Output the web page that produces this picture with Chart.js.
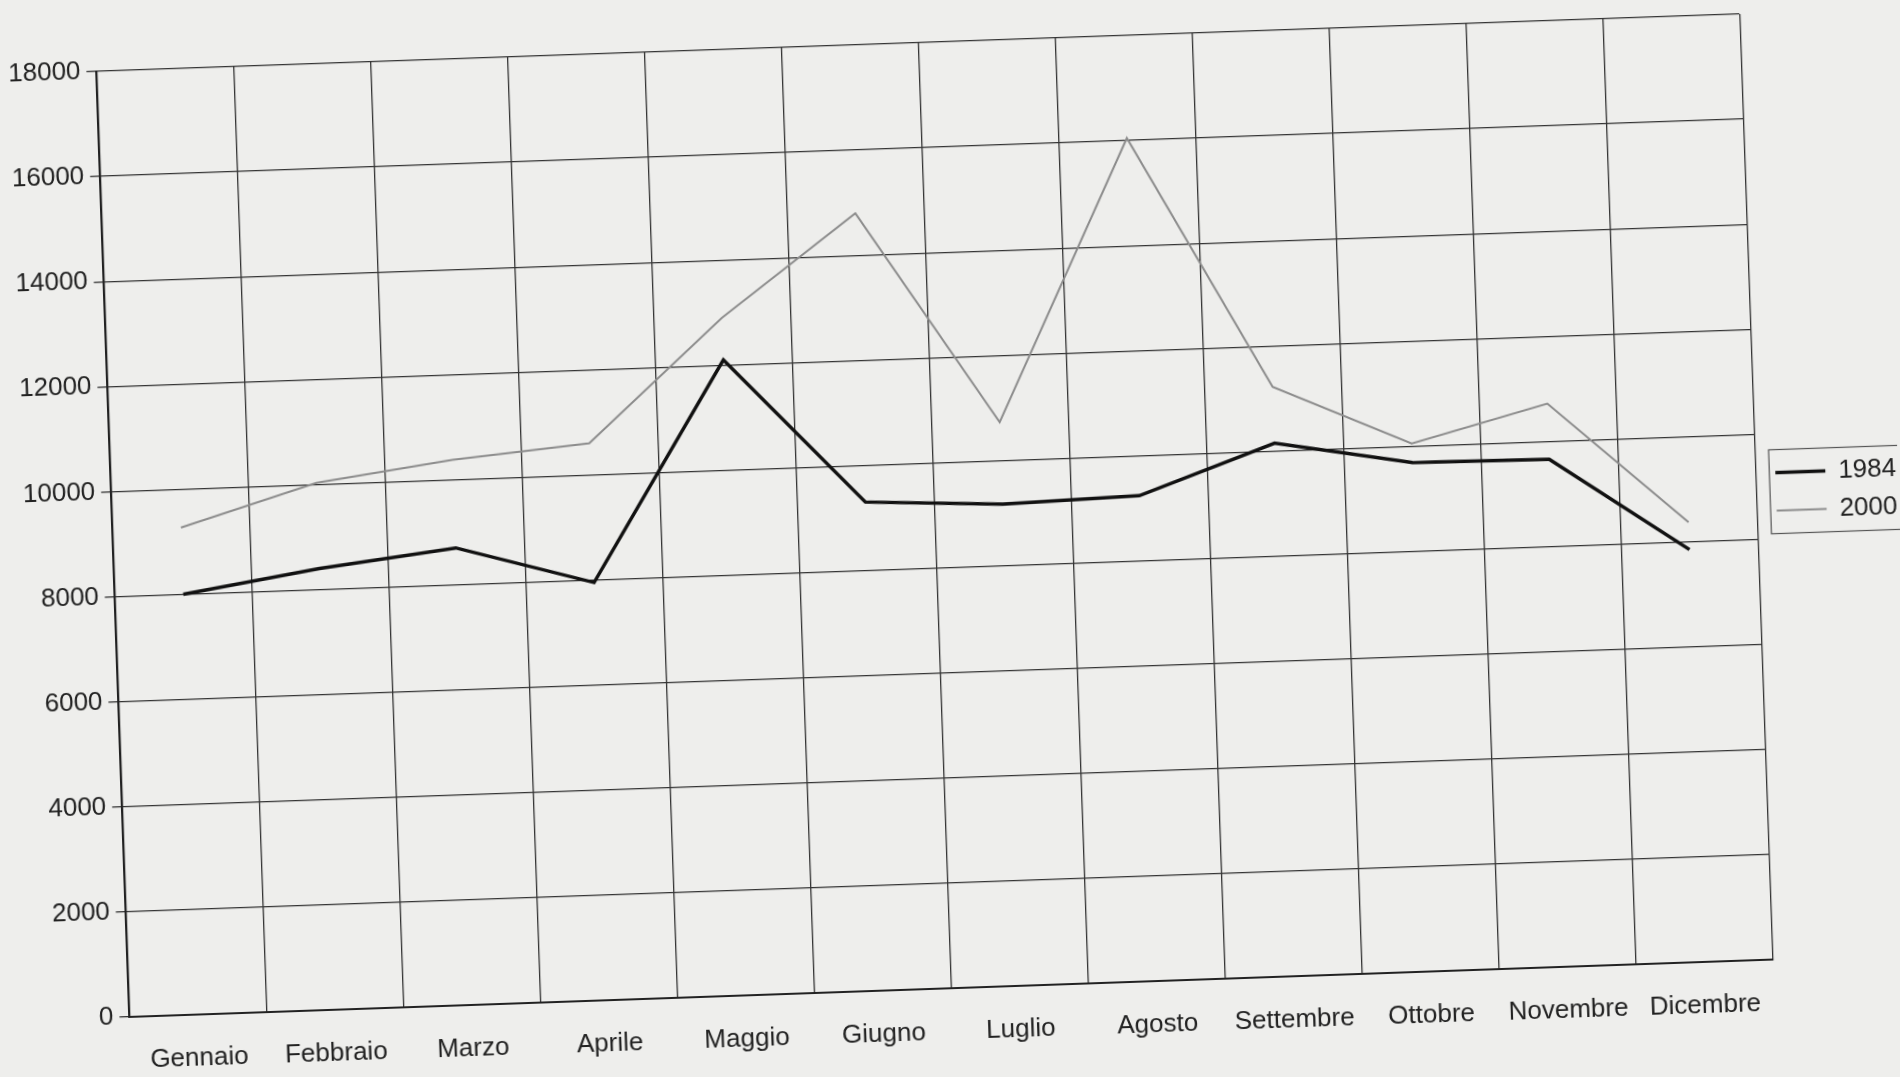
<!DOCTYPE html>
<html>
<head>
<meta charset="utf-8">
<script src="https://cdn.jsdelivr.net/npm/chart.js@4.4.0/dist/chart.umd.min.js"></script>
<style>
  html, body { margin: 0; padding: 0; background: #eeeeec; overflow: hidden; }
  #wrap { width: 1900px; height: 1077px; transform: rotate(-2deg); transform-origin: 50% 50%; }
</style>
</head>
<body>
<div id="wrap"><canvas id="chart" width="1900" height="1077"></canvas></div>
<script>
const months = ['Gennaio', 'Febbraio', 'Marzo', 'Aprile', 'Maggio', 'Giugno',
  'Luglio', 'Agosto', 'Settembre', 'Ottobre', 'Novembre', 'Dicembre'];
const values1984 = [8000, 8400, 8700, 7950, 12100, 9300, 9170, 9240, 10150, 9690, 9660, 7850];
const values2000 = [9270, 10030, 10380, 10600, 12900, 14800, 10730, 16050, 11220, 10050, 10720, 8370];
const yMin = 0;
const yMax = 18000;
const yStep = 2000;

const fontFamily = 'Liberation Sans, Arial, sans-serif';
const legendShiftY = 38; // legend sits a bit above the middle in the original
const legendShiftX = 8;

// nudge the legend and draw a box round it, like the old spreadsheet chart
const legendBox = {
  id: 'legendBox',
  afterUpdate(chart) {
    const lg = chart.legend;
    if (!lg) return;
    lg.top -= legendShiftY;
    lg.bottom -= legendShiftY;
    lg.left += legendShiftX;
    lg.right += legendShiftX;
    (lg.legendHitBoxes || []).forEach(b => { b.top -= legendShiftY; b.left += legendShiftX; });
  },
  afterDraw(chart) {
    const boxes = chart.legend && chart.legend.legendHitBoxes;
    if (!boxes || !boxes.length) return;
    const left = Math.min(...boxes.map(b => b.left)) - 6;
    const top = Math.min(...boxes.map(b => b.top)) - 10;
    const right = Math.max(...boxes.map(b => b.left + b.width)) + 10;
    const bottom = Math.max(...boxes.map(b => b.top + b.height)) + 10;
    const ctx = chart.ctx;
    ctx.save();
    ctx.strokeStyle = '#555';
    ctx.lineWidth = 1.2;
    ctx.strokeRect(left, top, right - left, bottom - top);
    ctx.restore();
  }
};

const ctx = document.getElementById('chart').getContext('2d');
const chart = new Chart(ctx, {
  type: 'line',
  data: {
    labels: months,
    datasets: [{
      label: '1984',
      data: values1984,
      borderColor: '#111',
      borderWidth: 3.5,
      pointRadius: 0,
      tension: 0
    }, {
      label: '2000',
      data: values2000,
      borderColor: '#8c8c8c',
      borderWidth: 2,
      pointRadius: 0,
      tension: 0
    }]
  },
  options: {
    responsive: false,
    animation: false,
    layout: { padding: { left: 19, top: 42, right: 0, bottom: 2 } },
    plugins: {
      tooltip: { enabled: false },
      legend: {
        position: 'right',
        labels: {
          usePointStyle: true,
          pointStyle: 'line',
          pointStyleWidth: 50,
          color: '#222',
          font: { family: fontFamily, size: 26 },
          padding: 12
        }
      }
    },
    scales: {
      x: {
        offset: true,
        grid: { offset: true, color: '#333', lineWidth: 1.3, drawTicks: false },
        border: { color: '#222', width: 2 },
        ticks: {
          color: '#222',
          maxRotation: 0,
          padding: 28,
          font: { family: fontFamily, size: 26 }
        }
      },
      y: {
        min: yMin,
        max: yMax,
        grid: { color: '#333', lineWidth: 1.3, tickLength: 10 },
        border: { color: '#222', width: 2 },
        ticks: {
          stepSize: yStep,
          color: '#222',
          padding: 6,
          font: { family: fontFamily, size: 26 },
          callback: v => String(v)
        }
      }
    }
  },
  plugins: [legendBox]
});
</script>
</body>
</html>
